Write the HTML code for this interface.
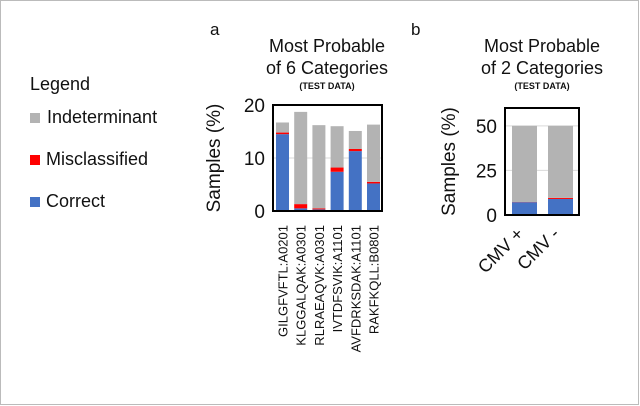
<!DOCTYPE html>
<html><head><meta charset="utf-8"><style>
body{margin:0;background:#fff}
svg{display:block;font-family:"Liberation Sans",Arial,sans-serif}
</style></head><body>
<svg id="c" width="640" height="406" viewBox="0 0 640 406">
<rect x="0.5" y="0.5" width="638" height="404" fill="#fff" stroke="#bbb"/>
<g>
<text x="30" y="90" font-size="18" fill="#111">Legend</text>
<rect x="30" y="113" width="10" height="10" fill="#b3b3b3"/>
<text x="47" y="123" font-size="18" fill="#111">Indeterminant</text>
<rect x="30" y="155" width="10" height="10" fill="#ff0000"/>
<text x="46" y="165" font-size="18" fill="#111">Misclassified</text>
<rect x="30" y="197" width="10" height="10" fill="#4472c4"/>
<text x="46" y="207" font-size="18" fill="#111">Correct</text>
</g>
<text x="210" y="35" font-size="17" fill="#111">a</text>
<text x="411" y="35" font-size="17" fill="#111">b</text>
<text x="327" y="52" font-size="18" text-anchor="middle" fill="#111">Most Probable</text>
<text x="327" y="74" font-size="18" text-anchor="middle" fill="#111">of 6 Categories</text>
<text x="327" y="89" font-size="9" font-weight="bold" text-anchor="middle" fill="#111">(TEST DATA)</text>
<text x="542" y="52" font-size="18" text-anchor="middle" fill="#111">Most Probable</text>
<text x="542" y="74" font-size="18" text-anchor="middle" fill="#111">of 2 Categories</text>
<text x="542" y="89" font-size="9" font-weight="bold" text-anchor="middle" fill="#111">(TEST DATA)</text>
<g id="ga"></g><g id="gb"></g>
</svg>
<script>
const catsA=["GILGFVFTL:A0201","KLGGALQAK:A0301","RLRAEAQVK:A0301","IVTDFSVIK:A1101","AVFDRKSDAK:A1101","RAKFKQLL:B0801"];
const correctA=[14.5,0.5,0.3,7.4,11.3,5.2];
const misA=[0.3,0.8,0.2,0.8,0.4,0.3];
const totalA=[16.7,18.7,16.2,16.0,15.1,16.3];
const ticksA=[0,10,20];
const catsB=["CMV +","CMV -"];
const correctB=[7.2,9.0];
const misB=[0.1,0.6];
const totalB=[50,50];
const ticksB=[0,25,50];
const NS="http://www.w3.org/2000/svg";
function mk(p,t,a,txt){const e=document.createElementNS(NS,t);for(const k in a)e.setAttribute(k,a[k]);if(txt!==undefined)e.textContent=txt;p.appendChild(e);return e;}
function chart(g,o){
 const y=v=>o.y0-(v-0)/(o.max)*(o.y0-o.yTop);
 for(const t of o.ticks){
  if(t>0&&t<o.max){const l=mk(g,'line',{x1:o.x0,x2:o.x1,y1:y(t),y2:y(t),stroke:'#d9d9d9','stroke-width':1});
   
   }
  const tx=mk(g,'text',{x:o.x0-8,y:y(t)+7,'font-size':19,'text-anchor':'end',fill:'#111'},String(t));
  
  
 }
 const yt=mk(g,'text',{transform:`translate(${o.titleX},${(o.y0+o.yTop)/2}) rotate(-90)`,'font-size':19,'text-anchor':'middle',fill:'#111'},'Samples (%)');
 
 
 o.cats.forEach((c,i)=>{
  const cx=o.firstC+i*o.step, x=cx-o.bw/2;
  const segs=[[0,o.cor[i],'#4472c4','bar-correct'],[o.cor[i],o.cor[i]+o.mis[i],'#ff0000','bar-misclassified'],[o.cor[i]+o.mis[i],o.tot[i],'#b3b3b3','bar-indeterminant']];
  for(const s of segs){const r=mk(g,'rect',{x:x,y:y(s[1]),width:o.bw,height:Math.max(0,y(s[0])-y(s[1])),fill:s[2]});
   
   }
  const lab=o.rot===-90?mk(g,'text',{transform:`translate(${cx+5},${o.y0+14}) rotate(-90)`,'font-size':13,'text-anchor':'end',fill:'#111'},c)
   :mk(g,'text',{transform:`translate(${cx},${o.y0+20}) rotate(-45)`,'font-size':18,'text-anchor':'end',fill:'#111'},c);
  
  
 });
 const fr=mk(g,'rect',{x:o.x0,y:o.yTop,width:o.x1-o.x0,height:o.y0-o.yTop,fill:'none',stroke:'#000','stroke-width':2});
 
 
}
chart(document.getElementById('ga'),{cats:catsA,cor:correctA,mis:misA,tot:totalA,ticks:ticksA,max:20,x0:273,x1:382,y0:211,yTop:105,firstC:282.5,step:18.2,bw:13,titleX:220,rot:-90});
chart(document.getElementById('gb'),{cats:catsB,cor:correctB,mis:misB,tot:totalB,ticks:ticksB,max:60,x0:505,x1:579,y0:215,yTop:108,firstC:524.5,step:36,bw:25,titleX:455,rot:-45});
</script>
</body></html>
